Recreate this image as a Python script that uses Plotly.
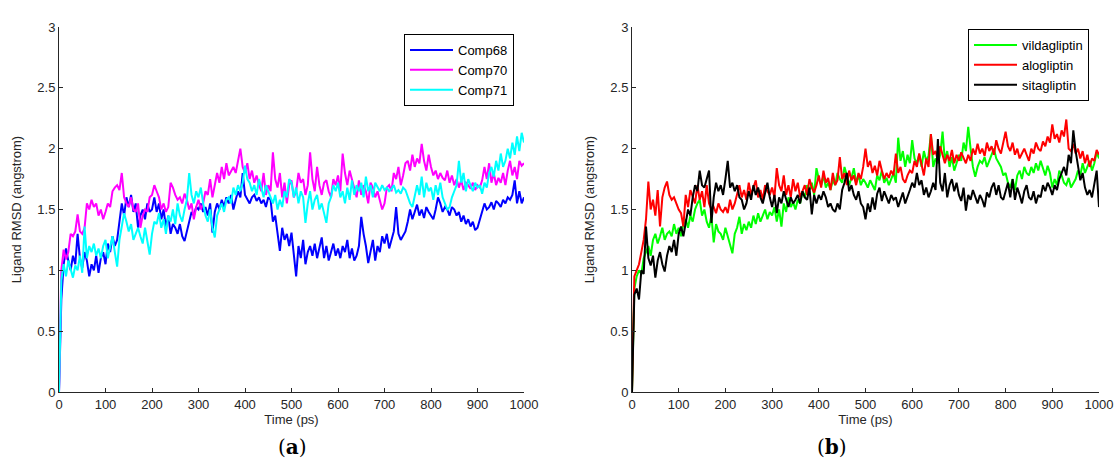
import plotly.graph_objects as go

time_ps = list(range(0, 1001, 5))

comp68 = [
    0, 0.76, 1.05, 1.18, 1.08, 1.0, 1.12, 1.05, 1.3, 1.1,
    1.02, 1.15, 1.08, 0.95, 1.05, 1.0, 1.12, 0.98, 1.1, 1.15,
    1.05, 1.22, 1.15, 1.28, 1.2, 1.25, 1.4, 1.55, 1.45, 1.6,
    1.52, 1.62, 1.48, 1.55, 1.35, 1.45, 1.5, 1.42, 1.55, 1.48,
    1.5, 1.6, 1.48, 1.55, 1.42, 1.5, 1.35, 1.45, 1.3, 1.38,
    1.35, 1.3, 1.38, 1.28, 1.24, 1.32, 1.4, 1.48, 1.45, 1.52,
    1.5, 1.55, 1.48, 1.52, 1.45, 1.55, 1.31, 1.48, 1.55, 1.5,
    1.58, 1.52, 1.6, 1.55, 1.62, 1.5, 1.58, 1.65, 1.6, 1.8,
    1.62, 1.58, 1.55, 1.6, 1.62, 1.57, 1.6, 1.55, 1.58, 1.52,
    1.6, 1.58, 1.4, 1.45, 1.3, 1.16, 1.35, 1.25, 1.3, 1.2,
    1.31, 1.12, 0.95, 1.2, 1.1, 1.25, 1.05, 1.15, 1.2, 1.12,
    1.22, 1.1, 1.18, 1.27, 1.1, 1.2, 1.08, 1.15, 1.22, 1.12,
    1.18, 1.1, 1.2, 1.15, 1.25, 1.1, 1.18, 1.08, 1.12, 1.2,
    1.44, 1.3, 1.2, 1.06, 1.15, 1.25, 1.08, 1.2, 1.15, 1.28,
    1.22, 1.3, 1.18, 1.25, 1.32, 1.52, 1.3, 1.25, 1.28, 1.32,
    1.4, 1.5, 1.42, 1.48, 1.54, 1.45, 1.5, 1.43, 1.52, 1.48,
    1.45, 1.42, 1.5, 1.6, 1.55, 1.48, 1.52, 1.5, 1.45, 1.52,
    1.5, 1.45, 1.48, 1.4, 1.45, 1.38, 1.42, 1.36, 1.4, 1.33,
    1.35, 1.42, 1.5, 1.55, 1.5, 1.52, 1.56, 1.5, 1.57, 1.55,
    1.52, 1.58, 1.55, 1.6, 1.58, 1.62, 1.74, 1.55, 1.65, 1.55,
    1.6,
]

comp70 = [
    0, 1.0, 1.17, 1.09, 1.15, 1.3, 1.28, 1.32, 1.46, 1.32,
    1.3, 1.35, 1.55, 1.5, 1.58, 1.52, 1.55, 1.45, 1.5, 1.42,
    1.48, 1.55, 1.52, 1.65, 1.68, 1.7, 1.66, 1.8, 1.6, 1.55,
    1.52, 1.6, 1.5, 1.48, 1.55, 1.35, 1.45, 1.5, 1.48, 1.6,
    1.62, 1.7, 1.65, 1.6, 1.5, 1.55, 1.48, 1.52, 1.72, 1.68,
    1.62, 1.58, 1.6, 1.55, 1.63, 1.58, 1.5, 1.55, 1.42, 1.52,
    1.58, 1.5, 1.55, 1.65, 1.62, 1.75, 1.6, 1.7, 1.8, 1.72,
    1.85, 1.75, 1.88, 1.78, 1.82, 1.85, 1.8, 1.9, 2.0, 1.85,
    1.8, 1.88, 1.75, 1.82, 1.72, 1.78, 1.7, 1.65, 1.8, 1.62,
    1.7, 1.65, 1.97, 1.75, 1.68, 1.8, 1.6, 1.72, 1.55, 1.7,
    1.74, 1.6, 1.65, 1.8, 1.72, 1.75, 1.62, 1.7, 1.97, 1.75,
    1.65, 1.85, 1.7, 1.62, 1.72, 1.74, 1.65, 1.6, 1.75, 1.7,
    1.78, 1.65, 1.96, 1.8, 1.7, 1.82, 1.75, 1.68, 1.6, 1.74,
    1.62, 1.7, 1.65, 1.55, 1.72, 1.68, 1.6, 1.65, 1.58, 1.5,
    1.55, 1.68, 1.7, 1.65, 1.8, 1.75, 1.85, 1.7, 1.78, 1.88,
    1.9, 1.82, 1.95, 1.85, 1.92, 1.88, 2.04, 1.9, 1.82, 1.95,
    1.85, 1.78, 1.82, 1.75, 1.8, 1.76, 1.74, 1.82, 1.72, 1.78,
    1.7, 1.75, 1.68, 1.74, 1.66, 1.72, 1.7, 1.67, 1.72, 1.66,
    1.7, 1.68, 1.74, 1.85, 1.75, 1.88, 1.72, 1.8, 1.7, 1.76,
    1.72, 1.8, 1.7, 1.82, 1.9, 1.78, 1.85, 1.75, 1.9, 1.86,
    1.88,
]

comp71 = [
    0, 0.92, 1.05, 0.95, 1.08, 1.0, 0.94, 1.04, 1.0, 1.12,
    0.98, 1.36, 1.1, 1.2, 1.15, 1.22, 1.12, 1.18, 1.1, 1.2,
    1.25, 1.1, 1.2, 1.28, 1.15, 1.03, 1.25, 1.35, 1.47, 1.4,
    1.32, 1.38, 1.25, 1.3, 1.35, 1.28, 1.22, 1.35, 1.25, 1.13,
    1.3, 1.4, 1.38, 1.47, 1.35, 1.42, 1.3, 1.45, 1.4, 1.5,
    1.38, 1.55, 1.45, 1.4, 1.5, 1.58, 1.8, 1.62, 1.55, 1.65,
    1.6, 1.68, 1.55, 1.45, 1.4, 1.5, 1.35, 1.27, 1.45, 1.5,
    1.55, 1.48, 1.58, 1.6, 1.55, 1.68, 1.62, 1.7, 1.65, 1.72,
    1.86, 1.75, 1.72, 1.65, 1.7, 1.62, 1.75, 1.68, 1.6, 1.7,
    1.65, 1.6, 1.55, 1.62, 1.5, 1.58, 1.52, 1.65, 1.6, 1.75,
    1.72, 1.6, 1.68, 1.55, 1.65, 1.6, 1.39, 1.55, 1.65, 1.5,
    1.58, 1.62, 1.5, 1.55, 1.47, 1.39, 1.55, 1.6, 1.7, 1.65,
    1.72, 1.6, 1.65, 1.55, 1.68, 1.58, 1.74, 1.62, 1.7, 1.65,
    1.72, 1.6, 1.77, 1.65, 1.7, 1.6, 1.72, 1.68, 1.65, 1.7,
    1.66, 1.68, 1.65, 1.67, 1.7, 1.64, 1.66, 1.63, 1.68, 1.66,
    1.6, 1.55, 1.52, 1.6, 1.7, 1.62, 1.77, 1.6, 1.72, 1.65,
    1.68, 1.58, 1.7, 1.62, 1.72, 1.6, 1.55, 1.5, 1.52, 1.6,
    1.65, 1.7, 1.9, 1.72, 1.8, 1.65, 1.75, 1.7, 1.65, 1.72,
    1.68, 1.7, 1.63, 1.72, 1.68, 1.8, 1.85, 1.77, 1.9, 1.82,
    1.96, 1.85, 1.9, 2.0, 1.92, 2.05, 1.95, 2.1, 1.98, 2.13,
    2.05,
]

vildagliptin = [
    0, 0.85, 0.95, 1.0, 0.97, 1.1, 1.15, 1.2, 1.12, 1.25,
    1.3, 1.22, 1.28, 1.35, 1.25, 1.3, 1.32, 1.28, 1.38, 1.3,
    1.35, 1.28, 1.38, 1.42, 1.35, 1.45, 1.4, 1.5, 1.55, 1.58,
    1.45, 1.5, 1.4, 1.35, 1.45, 1.23, 1.38, 1.32, 1.3, 1.25,
    1.35, 1.28, 1.2, 1.14, 1.3, 1.35, 1.44, 1.3, 1.38, 1.33,
    1.4, 1.35, 1.45, 1.38, 1.47, 1.4, 1.45, 1.5, 1.42, 1.48,
    1.45, 1.52, 1.4, 1.5, 1.36, 1.55, 1.48, 1.6, 1.52, 1.56,
    1.5, 1.58, 1.55, 1.65, 1.6, 1.7, 1.66, 1.72, 1.62, 1.84,
    1.75, 1.7, 1.78, 1.68, 1.72, 1.66, 1.74, 1.7, 1.8, 1.75,
    1.72, 1.85, 1.78, 1.7, 1.76, 1.84, 1.72, 1.78, 1.7, 1.75,
    1.72, 1.68, 1.74, 1.7, 1.66, 1.78, 1.74, 1.82, 1.72, 1.76,
    1.7, 1.75, 1.8, 1.72, 2.09, 1.9, 1.98, 1.85, 1.95, 1.88,
    2.07, 1.92, 1.88, 1.95, 1.85, 1.98, 1.9, 1.94, 2.12, 1.85,
    1.92, 1.88, 1.95, 2.14, 1.9, 1.98, 1.85, 1.93, 1.82, 1.88,
    1.95, 1.9, 2.05, 1.98, 2.18, 2.0, 1.85, 1.77, 1.85, 1.9,
    1.88, 1.93, 1.85, 1.9, 1.95, 2.0, 1.92, 1.88, 1.85, 1.78,
    1.8, 1.72, 1.68, 1.75, 1.66, 1.78, 1.82, 1.75, 1.85, 1.8,
    1.78, 1.85, 1.8, 1.88, 1.82, 1.9, 1.84, 1.78, 1.86, 1.8,
    1.68, 1.75, 1.7, 1.82, 1.78, 1.72, 1.7, 1.76, 1.68, 1.72,
    1.75, 1.82, 1.78, 1.88, 1.8, 1.85, 1.9, 1.82, 1.88, 1.97,
    1.92,
]

alogliptin = [
    0, 0.95, 1.0, 1.05, 1.15, 1.25, 1.42, 1.73, 1.5, 1.58,
    1.45, 1.66, 1.36, 1.6, 1.68, 1.73, 1.62, 1.58, 1.6, 1.55,
    1.5, 1.47, 1.36, 1.62, 1.52, 1.66, 1.6, 1.55, 1.7, 1.58,
    1.65, 1.52, 1.7, 1.55, 1.5, 1.52, 1.47, 1.55, 1.5, 1.48,
    1.52, 1.47, 1.58, 1.5, 1.55, 1.62, 1.7, 1.6, 1.66, 1.58,
    1.72, 1.62, 1.68, 1.74, 1.6, 1.66, 1.58, 1.7, 1.65, 1.62,
    1.68, 1.6, 1.84, 1.7, 1.65, 1.78, 1.62, 1.7, 1.6, 1.75,
    1.65, 1.72, 1.6, 1.66, 1.7, 1.62, 1.75, 1.68, 1.64, 1.7,
    1.78, 1.68, 1.82, 1.72, 1.76, 1.66, 1.8, 1.7, 1.74, 1.93,
    1.75, 1.8, 1.7, 1.82, 1.74, 1.78, 1.7, 1.8, 1.75, 1.85,
    2.0, 1.85, 1.9, 1.8, 1.86, 1.78, 1.9, 1.82, 1.75, 1.8,
    1.76, 1.82, 1.78, 1.96, 1.8, 1.85, 1.75, 1.72, 1.78, 1.82,
    1.8, 1.9, 1.85, 1.96, 1.88, 1.78, 1.92, 1.85, 2.12, 1.95,
    1.98, 1.9, 2.02, 1.95, 1.88, 1.95, 1.9, 1.99, 1.88, 1.95,
    1.9, 1.97, 1.92, 1.88, 1.95, 1.9, 2.0, 1.95, 2.04, 1.96,
    2.0, 1.94, 2.05, 1.98, 2.02, 1.95, 2.07, 2.0, 1.96, 2.05,
    2.14, 2.02, 1.98, 2.05, 1.95, 2.0, 1.92, 1.96, 2.0, 1.95,
    1.9, 2.0, 1.96, 2.05, 2.0, 1.98, 2.06, 2.02, 2.1, 2.05,
    2.2, 2.08, 2.12, 2.05, 2.15, 2.1, 2.24, 2.0, 1.98, 2.04,
    1.96, 2.0, 1.92, 1.98, 1.88, 1.95, 1.85, 1.92, 1.9, 1.99,
    1.95,
]

sitagliptin = [
    0, 0.8, 0.85, 0.76, 1.0, 0.97, 1.36, 1.1, 1.04, 1.12,
    0.94, 1.08, 1.15, 1.05, 0.99, 1.12, 1.2, 1.15, 1.25, 1.12,
    1.3, 1.36, 1.28, 1.4, 1.5, 1.45, 1.6, 1.7, 1.65, 1.82,
    1.7, 1.68, 1.75, 1.82, 1.39, 1.6, 1.72, 1.65, 1.7, 1.62,
    1.75, 1.9, 1.68, 1.72, 1.65, 1.7, 1.6, 1.58, 1.5, 1.55,
    1.65, 1.58, 1.7, 1.62, 1.68, 1.6, 1.55, 1.65, 1.72, 1.6,
    1.52, 1.62, 1.47, 1.6, 1.55, 1.65, 1.58, 1.52, 1.6, 1.55,
    1.58, 1.62, 1.55, 1.65, 1.6, 1.58, 1.68, 1.46, 1.62, 1.55,
    1.62, 1.58, 1.65, 1.6, 1.52, 1.55, 1.5, 1.48, 1.55, 1.5,
    1.66, 1.72, 1.8, 1.65, 1.7, 1.62, 1.58, 1.65, 1.55, 1.52,
    1.42, 1.55, 1.48, 1.6, 1.5, 1.63, 1.68, 1.57, 1.65, 1.6,
    1.55, 1.62, 1.58, 1.6, 1.52, 1.58, 1.64, 1.55, 1.6, 1.66,
    1.72, 1.68, 1.8, 1.7, 1.74, 1.62, 1.68, 1.6, 1.65, 1.72,
    1.66, 2.08, 1.72, 1.65, 1.8, 1.6, 1.7, 1.75, 1.65, 1.72,
    1.62, 1.57, 1.68, 1.49, 1.62, 1.58, 1.66, 1.6, 1.55, 1.62,
    1.58, 1.52, 1.64, 1.6, 1.68, 1.72, 1.62, 1.7, 1.6, 1.58,
    1.65, 1.72, 1.6, 1.75, 1.58, 1.68, 1.62, 1.55, 1.65, 1.7,
    1.6, 1.58, 1.65, 1.55, 1.62, 1.6, 1.7, 1.65, 1.72, 1.68,
    1.62, 1.7, 1.66, 1.75, 1.8, 1.85, 1.78, 1.95, 1.88, 2.15,
    1.98, 1.85, 1.74, 1.8, 1.68, 1.62, 1.66, 1.6, 1.7, 1.82,
    1.52,
]

series_a = [("Comp68", comp68, "#0000ff"), ("Comp70", comp70, "#ff00ff"), ("Comp71", comp71, "#00ffff")]
series_b = [("vildagliptin", vildagliptin, "#00ff00"), ("alogliptin", alogliptin, "#ff0000"), ("sitagliptin", sitagliptin, "#000000")]

y_ticks = [0, 0.5, 1, 1.5, 2, 2.5, 3]
y_tick_text = ["0", "0.5", "1", "1.5", "2", "2.5", "3"]
x_ticks = list(range(0, 1001, 100))

# the page's body margin is removed by a post-script, so figure pixel = page pixel
W, H = 1116, 473
ML = 59
MR = W - 1099
MT = 27
MB = H - 392
PW = W - ML - MR
PH = H - MT - MB

def px(xpage):
    return (xpage - ML) / PW

def py(ypage):
    return (H - MB - ypage) / PH

fig = go.Figure()

for name, vals, col in series_a:
    fig.add_trace(go.Scatter(x=time_ps, y=vals, mode="lines", name=name,
                             line=dict(color=col, width=2), xaxis="x", yaxis="y", legend="legend"))
for name, vals, col in series_b:
    fig.add_trace(go.Scatter(x=time_ps, y=vals, mode="lines", name=name,
                             line=dict(color=col, width=2), xaxis="x2", yaxis="y2", legend="legend2"))

font_main = "Liberation Sans, Arial, sans-serif"
axis_col = "#262626"

def xax(domain, anchor):
    return dict(domain=domain, anchor=anchor, range=[0, 1000], tickvals=x_ticks,
                ticks="inside", ticklen=4, tickcolor=axis_col, showline=True, linecolor=axis_col,
                linewidth=1, showgrid=False, zeroline=False, mirror=False, automargin=False,
                ticklabeloverflow="allow",
                tickfont=dict(size=13, color=axis_col, family=font_main),
                title=dict(text="Time (ps)", font=dict(size=13, color=axis_col, family=font_main), standoff=0))

def yax(anchor):
    return dict(domain=[0, 1], anchor=anchor, range=[0, 3], tickvals=y_ticks, ticktext=y_tick_text,
                ticks="inside", ticklen=4, tickcolor=axis_col, showline=True, linecolor=axis_col,
                linewidth=1, showgrid=False, zeroline=False, mirror=False, automargin=False,
                tickfont=dict(size=13, color=axis_col, family=font_main),
                title=dict(text="Ligand RMSD (angstrom)", font=dict(size=13, color=axis_col, family=font_main), standoff=12))

legend_common = dict(xanchor="left", yanchor="top", bordercolor="#000000", borderwidth=1,
                     bgcolor="white", itemwidth=43, tracegroupgap=0,
                     font=dict(size=13, color="#000000", family=font_main))

fig.update_layout(
    width=W, height=H, autosize=False,
    margin=dict(l=ML, r=MR, t=MT, b=MB),
    paper_bgcolor="white", plot_bgcolor="white",
    xaxis=xax([0, px(524)], "y"),
    yaxis=yax("x"),
    xaxis2=xax([px(632), 1], "y2"),
    yaxis2=yax("x2"),
    legend=dict(x=px(404), y=py(34), **legend_common),
    legend2=dict(x=px(968), y=py(29), **legend_common),
    annotations=[
        dict(text="(<b>a</b>)", x=px(276), y=py(461), xref="paper", yref="paper",
             showarrow=False, font=dict(size=20, family="DejaVu Serif, Liberation Serif, serif", color="#000000")),
        dict(text="(<b>b</b>)", x=px(849), y=py(461), xref="paper", yref="paper",
             showarrow=False, font=dict(size=20, family="DejaVu Serif, Liberation Serif, serif", color="#000000")),
    ],
)

fig.write_html("out.html", config={"displayModeBar": False},
               post_script="document.body.style.margin='0';document.body.style.overflow='hidden';")
